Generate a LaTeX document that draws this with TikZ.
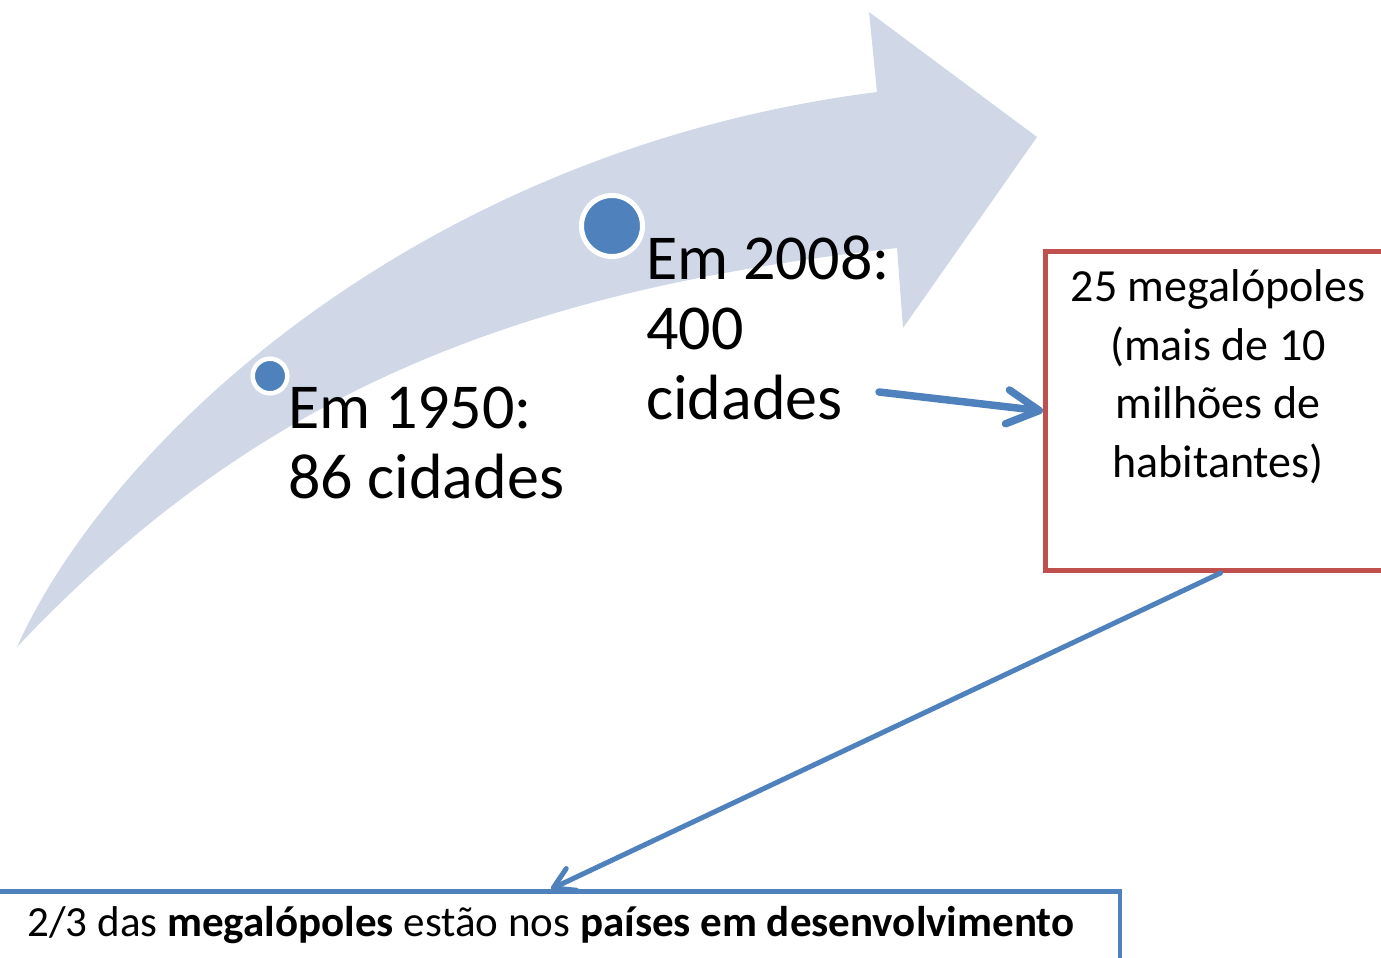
\documentclass[tikz,border=0pt]{standalone}
\usepackage{fontspec}
\setmainfont{Carlito}
\usetikzlibrary{arrows.meta}
\definecolor{bodyfill}{HTML}{D0D8E8}
\definecolor{accblue}{HTML}{4F81BD}
\definecolor{accred}{HTML}{C0504D}
\begin{document}
\begin{tikzpicture}[x=1pt,y=-1pt,
  dotnode/.style={circle, fill=accblue, draw=white, inner sep=0pt},
  bigtext/.style={font=\fontsize{64}{70}\selectfont, align=left, inner sep=0pt, anchor=base west},
  boxtext/.style={font=\fontsize{46}{58.5}\selectfont, align=center, inner sep=0pt, anchor=base},
  redbox/.style={draw=accred, line width=5pt, inner sep=0pt, anchor=north west},
  bluebox/.style={draw=accblue, line width=4.5pt, inner sep=0pt, anchor=north},
  conn/.style={draw=accblue, line cap=round}
]
\useasboundingbox (0,0) rectangle (1381,958);
\clip (0,0) rectangle (1381,958);
% curved arrow
\fill[bodyfill] (17,647) .. controls (110,440) and (420,150) .. (877,92)
  -- (869,12) -- (1037,137) -- (903,328) -- (897,248)
  .. controls (520,290) and (260,390) .. (17,647) -- cycle;
% dots
\node[dotnode, line width=4.5pt, minimum size=34.6pt] (dot1950) at (270,376) {};
\node[dotnode, line width=5pt, minimum size=61pt] (dot2008) at (612,226) {};
% texts (base anchor = last line's baseline)
\node[bigtext] (t1950) at (288,498) {Em 1950:\\86 cidades};
\node[bigtext] (t2008) at (646,419) {Em 2008:\\400\\cidades};
% boxes
\node[redbox, minimum width=350pt, minimum height=319pt] (megabox) at (1043,249) {};
\node[boxtext] (megatext) at (1218,477) {25 megalópoles\\(mais de 10\\milhões de\\habitantes)};
\node[bluebox, minimum width=1138pt, minimum height=200pt] (devbox) at (551,889) {};
\node[font=\fontsize{43}{50}\selectfont, inner sep=0pt, anchor=base] (devtext) at (551,936)
  {2/3 das \textbf{megalópoles} estão nos \textbf{países em desenvolvimento}};
% connectors
\coordinate (a1start) at (879,392);
\draw[conn, line width=7.5pt, -{Straight Barb[length=32pt,width=34pt,round]}] (a1start) -- (megabox.west);
\draw[conn, line width=5pt, -{Straight Barb[length=20pt,width=24pt,round]}] (megabox.south) -- (devbox.north);
\end{tikzpicture}
\end{document}
